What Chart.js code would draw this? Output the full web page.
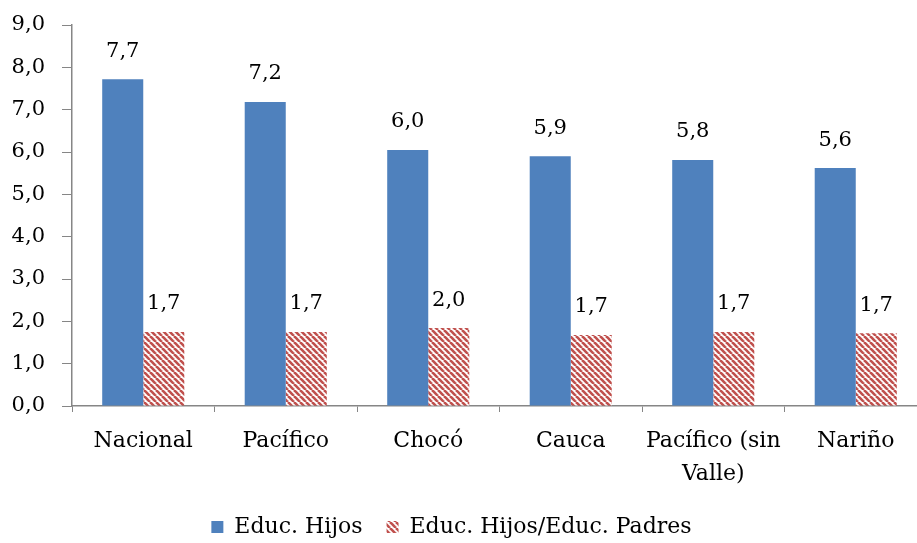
<!DOCTYPE html>
<html>
<head>
<meta charset="utf-8">
<script src="https://cdn.jsdelivr.net/npm/chart.js@4/dist/chart.umd.min.js"></script>
<style>
    html, body { margin: 0; padding: 0; background: #fff; overflow: hidden; }
    #wrap { width: 927px; height: 543px; }
</style>
</head>
<body>
<div id="wrap"><canvas id="educ-chart"></canvas></div>
<script>
    "use strict";

    // Datos
    var categories = ["Nacional", "Pacífico", "Chocó", "Cauca", ["Pacífico (sin", "Valle)"], "Nariño"];
    var hijosValues = [7.72, 7.18, 6.05, 5.9, 5.81, 5.62];
    var ratioValues = [1.75, 1.75, 1.84, 1.68, 1.75, 1.72];
    var hijosLabels = ["7,7", "7,2", "6,0", "5,9", "5,8", "5,6"];
    var ratioLabels = ["1,7", "1,7", "2,0", "1,7", "1,7", "1,7"];
    var seriesNames = ["Educ. Hijos", "Educ. Hijos/Educ. Padres"];

    var FONT = "'DejaVu Serif', serif";
    var BLUE = "#4F81BD";
    var RED = "#C0504D";

    // Patrón de rayas diagonales
    var makeStripes = function () {
        var size = 6;
        var tile = document.createElement("canvas");
        tile.width = size;
        tile.height = size;
        var c = tile.getContext("2d");
        c.fillStyle = "#fff";
        c.fillRect(0, 0, size, size);
        c.strokeStyle = RED;
        c.lineWidth = 2.6;
        [-size, 0, size].forEach(function (k) {
            c.beginPath();
            c.moveTo(k, 0);
            c.lineTo(k + size, size);
            c.stroke();
        });
        return c.createPattern(tile, "repeat");
    };

    // Etiquetas encima de las barras
    var barLabels = {
        id: "barLabels",
        afterDatasetsDraw: function (chart) {
            var ctx = chart.ctx;
            var texts = [hijosLabels, ratioLabels];
            ctx.save();
            ctx.font = "21px " + FONT;
            ctx.fillStyle = "#000";
            ctx.textAlign = "center";
            ctx.textBaseline = "middle";
            chart.data.datasets.forEach(function (ds, i) {
                chart.getDatasetMeta(i).data.forEach(function (bar, j) {
                    ctx.fillText(texts[i][j], bar.x, bar.y - 28);
                });
            });
            ctx.restore();
        }
    };

    // Mover la leyenda un poco (izquierda y abajo)
    var legendShift = {
        id: "legendShift",
        afterLayout: function (chart) {
            var lg = chart.legend;
            lg.left -= 12;
            lg.right -= 12;
            lg.top += 5;
            lg.bottom += 5;
        }
    };

    var ctx = document.getElementById("educ-chart").getContext("2d");
    var stripes = makeStripes();

    var chart = new Chart(ctx, {
        type: "bar",
        data: {
            labels: categories,
            datasets: [{
                label: seriesNames[0],
                data: hijosValues,
                backgroundColor: BLUE,
                borderWidth: 0
            },
            {
                label: seriesNames[1],
                data: ratioValues,
                backgroundColor: stripes,
                borderWidth: 0
            }]
        },
        options: {
            responsive: true,
            maintainAspectRatio: false,
            animation: false,
            layout: { padding: { top: 25, left: 0, right: 0, bottom: 0 } },
            datasets: {
                bar: { categoryPercentage: 0.576, barPercentage: 1 }
            },
            plugins: {
                tooltip: { enabled: false },
                legend: {
                    position: "bottom",
                    labels: {
                        font: { family: FONT, size: 22 },
                        color: "#000",
                        boxWidth: 12,
                        boxHeight: 12,
                        padding: 24
                    }
                }
            },
            scales: {
                x: {
                    afterFit: function (scale) { scale.height = 81; },
                    grid: {
                        offset: true,
                        drawOnChartArea: false,
                        tickLength: 6,
                        color: "#868686"
                    },
                    border: { color: "#868686", width: 1.5 },
                    ticks: {
                        padding: 13,
                        color: "#000",
                        maxRotation: 0,
                        autoSkip: false,
                        font: { family: FONT, size: 22, lineHeight: 1.5 }
                    }
                },
                y: {
                    min: 0,
                    max: 9,
                    afterFit: function (scale) {
                        scale.width = 72;
                        scale.paddingTop = 0;
                        scale.paddingBottom = 0;
                    },
                    grid: {
                        drawOnChartArea: false,
                        tickLength: 10,
                        color: "#868686"
                    },
                    border: { color: "#868686", width: 1.5 },
                    ticks: {
                        stepSize: 1,
                        padding: 17,
                        color: "#000",
                        font: { family: FONT, size: 21 },
                        callback: function (v) { return v.toFixed(1).replace(".", ","); }
                    }
                }
            }
        },
        plugins: [barLabels, legendShift]
    });
</script>
</body>
</html>
